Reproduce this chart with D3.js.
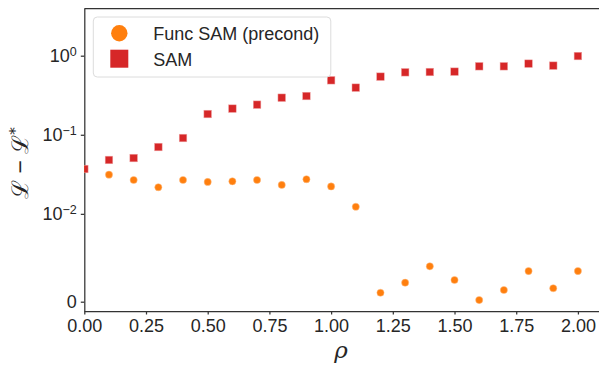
<!DOCTYPE html>
<html>
<head>
<meta charset="utf-8">
<script src="https://cdn.jsdelivr.net/npm/d3@7"></script>
<style>
  body { margin: 0; background: #fff; }
  svg { display: block; font-family: "Liberation Sans", Arial, sans-serif; }
</style>
</head>
<body>
<svg id="chart" width="599" height="365"></svg>
<script>
// rho values on the x axis
var rho = [0.0, 0.1, 0.2, 0.3, 0.4, 0.5, 0.6, 0.7, 0.8, 0.9, 1.0,
           1.1, 1.2, 1.3, 1.4, 1.5, 1.6, 1.7, 1.8, 1.9, 2.0];
// L - L* for each method
var funcSam = [0.0369, 0.0313, 0.0268, 0.0217, 0.0268, 0.0253, 0.0258, 0.0268, 0.0232, 0.0274, 0.0222,
               0.0123, 0.00102, 0.00216, 0.00403, 0.00247, 0.00019, 0.00133, 0.00349, 0.00153, 0.00349];
var sam = [0.0369, 0.048, 0.0508, 0.070, 0.091, 0.183, 0.214, 0.240, 0.294, 0.309, 0.489,
           0.394, 0.543, 0.617, 0.622, 0.628, 0.735, 0.735, 0.793, 0.748, 0.99];
var xTicks = [0, 0.25, 0.5, 0.75, 1.0, 1.25, 1.5, 1.75, 2.0];
var yTicks = [0, 0.01, 0.1, 1];
var yTickExp = ["", "\u22122", "\u22121", "0"];
var legendNames = ["Func SAM (precond)", "SAM"];

// symlog like matplotlib: linthresh 1e-2, linscale 1
var linthresh = 0.01;
var linscaleAdj = 1 / (1 - 1 / 10);
function symlog(v) {
    var a = Math.abs(v);
    if (a <= linthresh) return v / linthresh * linscaleAdj;
    return Math.sign(v) * (linscaleAdj + Math.log10(a / linthresh));
}

var margin = {left: 84.3, top: 8.5, right: 602.6, bottom: 311};
var svg = d3.select("#chart");

var x = d3.scaleLinear().domain([0, 2.1]).range([margin.left, margin.right]);
var y = d3.scaleLinear().domain([-0.1176, 3.708]).range([margin.bottom, margin.top]);

svg.append("defs").append("clipPath").attr("id", "plotclip")
    .append("rect")
    .attr("x", margin.left).attr("y", margin.top)
    .attr("width", margin.right - margin.left)
    .attr("height", margin.bottom - margin.top);

var axisColor = "#333";

// x axis
var gx = svg.append("g")
    .attr("transform", "translate(0," + margin.bottom + ")")
    .call(d3.axisBottom(x).tickValues(xTicks).tickSize(3.5).tickSizeOuter(0).tickPadding(5)
        .tickFormat(d3.format(".2f")));
gx.select(".domain").attr("stroke", axisColor).attr("stroke-width", 1.25);
gx.selectAll(".tick line").attr("stroke", axisColor).attr("stroke-width", 1.25);
gx.selectAll(".tick text").attr("fill", "#262626").style("font-size", "18px")
    .style("font-family", "Liberation Sans, Arial, sans-serif");

// y axis
var gy = svg.append("g")
    .attr("transform", "translate(" + margin.left + ",0)")
    .call(d3.axisLeft(y).tickValues(yTicks.map(symlog)).tickSize(3.5).tickSizeOuter(0).tickPadding(4)
        .tickFormat(""));
gy.select(".domain").attr("stroke", axisColor).attr("stroke-width", 1.25);
gy.selectAll(".tick line").attr("stroke", axisColor).attr("stroke-width", 1.25);
gy.selectAll(".tick text").each(function(d, i) {
    var t = d3.select(this).attr("fill", "#262626").style("font-size", "18px")
        .style("font-family", "Liberation Sans, Arial, sans-serif");
    if (yTicks[i] === 0) {
        t.text("0");
    } else {
        t.append("tspan").text("10");
        t.append("tspan").attr("dy", "-0.45em").style("font-size", "12.5px").text(yTickExp[i]);
    }
});

// top spine
svg.append("line")
    .attr("x1", margin.left).attr("x2", margin.right)
    .attr("y1", margin.top).attr("y2", margin.top)
    .attr("stroke", axisColor).attr("stroke-width", 1.25);

// points
var plot = svg.append("g").attr("clip-path", "url(#plotclip)");

plot.selectAll("circle.func")
    .data(rho)
    .enter()
    .append("circle")
    .attr("class", "func")
    .attr("cx", function (d) { return x(d); })
    .attr("cy", function (d, i) { return y(symlog(funcSam[i])); })
    .attr("r", 3.6)
    .attr("fill", "#ff7f0e")
    .attr("stroke", "#ffc08a")
    .attr("stroke-width", 0.5);

var sq = 7.6;
plot.selectAll("rect.sam")
    .data(rho)
    .enter()
    .append("rect")
    .attr("class", "sam")
    .attr("x", function (d) { return x(d) - sq / 2; })
    .attr("y", function (d, i) { return y(symlog(sam[i])) - sq / 2; })
    .attr("width", sq).attr("height", sq)
    .attr("fill", "#d62728")
    .attr("stroke", "#f0a8a8")
    .attr("stroke-width", 0.5);

// legend
var lg = svg.append("g");
lg.append("rect")
    .attr("x", 93.3).attr("y", 17).attr("width", 237.5).attr("height", 60)
    .attr("rx", 4).attr("fill", "#fff").attr("fill-opacity", 0.8)
    .attr("stroke", "#dcdcdc").attr("stroke-width", 1);
lg.append("circle").attr("cx", 119.3).attr("cy", 33.3).attr("r", 8.2).attr("fill", "#ff7f0e");
lg.append("rect").attr("x", 110.3).attr("y", 49.7).attr("width", 18).attr("height", 18).attr("fill", "#d62728");
legendNames.forEach(function(name, i) {
    lg.append("text")
        .attr("x", 153.3).attr("y", 40 + i * 26)
        .attr("fill", "#262626")
        .style("font-size", "18px")
        .text(name);
});

// axis labels
svg.append("text")
    .attr("x", 341).attr("y", 358)
    .attr("text-anchor", "middle")
    .style("font-family", "DejaVu Serif, serif")
    .style("font-style", "italic")
    .style("font-size", "23px")
    .attr("fill", "#262626")
    .text("\u03c1");

var yl = svg.append("text")
    .attr("transform", "translate(28,163) rotate(-90)")
    .attr("text-anchor", "middle")
    .style("font-family", "DejaVu Serif, serif")
    .style("font-size", "23px")
    .style("font-weight", "300")
    .attr("fill", "#262626");
yl.append("tspan").text("\u2112");
yl.append("tspan").style("font-family", "Liberation Sans, sans-serif").style("font-weight", "normal")
    .text(" \u2212 ");
yl.append("tspan").text("\u2112");
yl.append("tspan").attr("dy", "-0.55em").style("font-size", "15px").text("*");
</script>
</body>
</html>
